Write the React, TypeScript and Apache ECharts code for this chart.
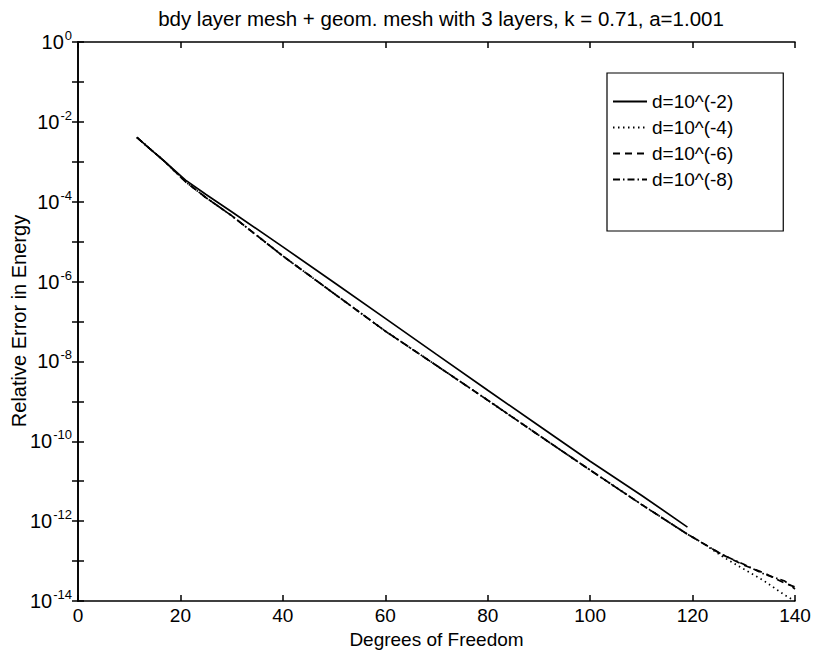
import React, { useEffect, useRef } from "react";
import * as echarts from "echarts";

const titleText = "bdy layer mesh + geom. mesh with 3 layers, k = 0.71, a=1.001";
const xLabel = "Degrees of Freedom";
const yLabel = "Relative Error in Energy";

const seriesNames = ["d=10^(-2)", "d=10^(-4)", "d=10^(-6)", "d=10^(-8)"];

// d = 10^-2 (solid), ends at ~119 DOF
const solidX = [11.5, 14, 17, 21, 25, 30, 40, 50, 60, 70, 80, 90, 100, 110, 119];
const solidY = [4.07e-3, 2.14e-3, 1.0e-3, 3.47e-4, 1.51e-4, 5.6e-5, 7.4e-6, 9.5e-7, 1.2e-7, 1.5e-8, 1.9e-9, 2.45e-10, 3.16e-11, 4.47e-12, 7.1e-13];

// other three series share these DOF values
const lowerX = [11.5, 14, 17, 21, 25, 30, 40, 50, 60, 70, 80, 90, 100, 110, 119, 122, 126, 130, 134, 138, 140];
const dottedY = [4.07e-3, 2.14e-3, 1.0e-3, 3.16e-4, 1.26e-4, 4.47e-5, 4.37e-6, 5.0e-7, 5.75e-8, 7.9e-9, 1.07e-9, 1.41e-10, 1.9e-11, 2.63e-12, 4.7e-13, 2.8e-13, 1.26e-13, 6.3e-14, 3.16e-14, 1.41e-14, 1.0e-14];
const dashedY = [4.07e-3, 2.14e-3, 1.0e-3, 3.16e-4, 1.26e-4, 4.47e-5, 4.37e-6, 5.0e-7, 5.75e-8, 7.9e-9, 1.07e-9, 1.41e-10, 1.9e-11, 2.63e-12, 4.7e-13, 2.8e-13, 1.41e-13, 7.9e-14, 5.0e-14, 2.8e-14, 2.24e-14];
const dashDotY = [4.07e-3, 2.14e-3, 1.0e-3, 3.16e-4, 1.26e-4, 4.47e-5, 4.37e-6, 5.0e-7, 5.75e-8, 7.9e-9, 1.07e-9, 1.41e-10, 1.9e-11, 2.63e-12, 4.7e-13, 2.8e-13, 1.41e-13, 8.3e-14, 4.7e-14, 3.16e-14, 2.0e-14];

const xTicks = [0, 20, 40, 60, 80, 100, 120, 140];

const FONT = "Liberation Sans, Arial, Helvetica, sans-serif";

function pair(xs: number[], ys: number[]) {
  return xs.map((x, i) => [x, ys[i]]);
}

export default function App() {
  const ref = useRef<HTMLDivElement>(null);
  useEffect(() => {
    if (!ref.current) return;
    const chart = echarts.init(ref.current, null, { renderer: "svg" });
    const axisLine = { show: true, lineStyle: { color: "#000", width: 1.6 } };
    const tick = { show: true, inside: true, length: 6, lineStyle: { color: "#000", width: 1.5 } };
    const mkLine = (name: string, data: number[][], type: any) => ({
      name,
      type: "line",
      data,
      symbol: "none",
      showSymbol: false,
      lineStyle: { color: "#000", width: 1.7, type },
      itemStyle: { color: "#000" },
      z: 3,
    });
    chart.setOption({
      animation: false,
      backgroundColor: "#fff",
      title: {
        text: titleText,
        left: 436,
        textAlign: "center",
        top: 3,
        textStyle: { fontFamily: FONT, fontSize: 20.5, fontWeight: "normal", color: "#000" },
      },
      grid: {
        left: 78,
        top: 42,
        width: 717,
        height: 559,
        show: false,
        containLabel: false,
        outerBoundsMode: "none",
      },
      graphic: [
        {
          type: "text",
          x: 19,
          y: 321,
          rotation: Math.PI / 2,
          style: {
            text: yLabel,
            fontFamily: FONT,
            fontSize: 20,
            fill: "#000",
            align: "center",
            verticalAlign: "middle",
          },
        },
      ],
      legend: {
        left: 607,
        top: 73,
        orient: "vertical",
        backgroundColor: "#fff",
        borderColor: "#000",
        borderWidth: 1.2,
        padding: [19, 50, 42, 5],
        itemGap: 7,
        itemWidth: 34,
        itemHeight: 20,
        itemStyle: { opacity: 0 },
        textStyle: { fontFamily: FONT, fontSize: 19, color: "#000" },
        data: seriesNames,
      },
      xAxis: [
        {
          type: "value",
          min: 0,
          max: 140,
          interval: 20,
          position: "bottom",
          name: xLabel,
          nameLocation: "middle",
          nameGap: 25,
          nameTextStyle: { fontFamily: FONT, fontSize: 19, color: "#000" },
          axisLine,
          axisTick: tick,
          axisLabel: {
            fontFamily: FONT,
            fontSize: 19,
            color: "#000",
            margin: 5,
            formatter: (v: number) => (xTicks.includes(v) ? String(v) : ""),
          },
          splitLine: { show: false },
        },
        {
          type: "value",
          min: 0,
          max: 140,
          interval: 20,
          position: "top",
          axisLine,
          axisTick: tick,
          axisLabel: { show: false },
          splitLine: { show: false },
        },
      ],
      yAxis: [
        {
          type: "log",
          logBase: 10,
          min: 1e-14,
          max: 1,
          interval: 1,
          position: "left",
          axisLine,
          axisTick: tick,
          axisLabel: {
            color: "#000",
            margin: 6,
            formatter: (v: number) => {
              const e = Math.round(Math.log10(v));
              if (e % 2 !== 0) return "";
              return `{b|10}{s|${e}}`;
            },
            rich: {
              b: { fontFamily: FONT, fontSize: 20, color: "#000" },
              s: { fontFamily: FONT, fontSize: 13, color: "#000", padding: [0, 0, 13, 1] },
            },
          },
          splitLine: { show: false },
        },
        {
          type: "log",
          logBase: 10,
          min: 1e-14,
          max: 1,
          interval: 1,
          position: "right",
          axisLine,
          axisTick: tick,
          axisLabel: { show: false },
          splitLine: { show: false },
        },
      ],
      series: [
        mkLine(seriesNames[0], pair(solidX, solidY), "solid"),
        mkLine(seriesNames[1], pair(lowerX, dottedY), [1.5, 3.5]),
        mkLine(seriesNames[2], pair(lowerX, dashedY), [7, 5]),
        mkLine(seriesNames[3], pair(lowerX, dashDotY), [7, 3, 1.5, 3]),
      ],
    });
    return () => chart.dispose();
  }, []);
  return (
    <div
      ref={ref}
      style={{ position: "fixed", left: 0, top: 0, width: 813, height: 654, background: "#fff" }}
    />
  );
}
